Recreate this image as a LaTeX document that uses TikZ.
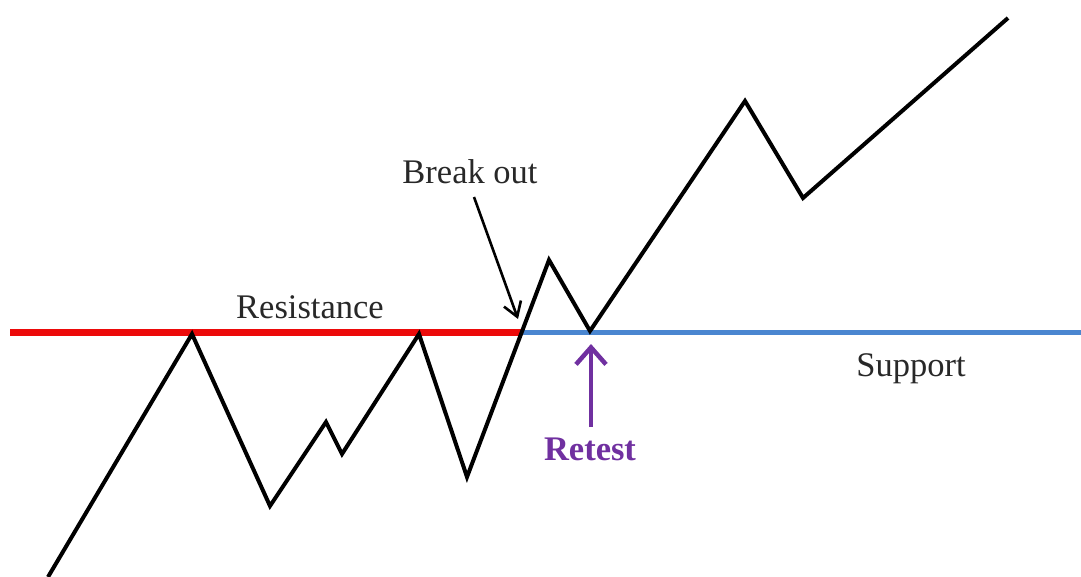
\documentclass[tikz,border=0pt]{standalone}
\usepackage{fontspec}
\setmainfont{Liberation Serif}
\usetikzlibrary{arrows.meta}
\definecolor{resred}{RGB}{236,10,10}
\definecolor{supblue}{RGB}{74,134,208}
\definecolor{retpurple}{RGB}{112,48,160}
\definecolor{txtgray}{RGB}{40,40,40}
\tikzset{
  lbl/.style={font=\fontsize{34.5}{40}\selectfont, text=txtgray, inner sep=0pt},
  price/.style={line width=4pt, black, line join=miter},
}
\begin{document}
\begin{tikzpicture}[x=1pt,y=-1pt]
\useasboundingbox (0,0) rectangle (1081,577);
% levels
\coordinate (rs) at (10,332);
\coordinate (bo) at (522,332);
\coordinate (se) at (1081,332);
\draw[resred, line width=7pt] (rs) -- (bo);
\draw[supblue, line width=5pt] (bo) -- (se);
% price path
\coordinate (p0) at (48,577);
\coordinate (p1) at (192,334);
\coordinate (p2) at (270,506);
\coordinate (p3) at (326,422);
\coordinate (p4) at (342,454);
\coordinate (p5) at (419,334);
\coordinate (p6) at (467,477);
\coordinate (p7) at (549,260);
\coordinate (p8) at (590,331);
\coordinate (p9) at (745,101);
\coordinate (p10) at (803,198);
\coordinate (p11) at (1008,18);
\draw[price] (p0) -- (p1) -- (p2) -- (p3) -- (p4) -- (p5) -- (p6) -- (p7) -- (p8) -- (p9) -- (p10) -- (p11);
% labels
\node[lbl] (res) at (310,307) {Resistance};
\node[lbl] (sup) at (911,369) {Support};
\node[lbl] (brk) at (470,172) {Break out};
\node[lbl, font=\fontsize{34.5}{40}\selectfont\bfseries, text=retpurple] (ret) at (590,449) {Retest};
% arrows
\coordinate (bs) at (474,197);
\coordinate (be) at (518,319);
\draw[line width=2.6pt, -{Straight Barb[length=14pt,width=18pt]}] (bs) -- (be);
\coordinate (rs2) at (591,427);
\coordinate (re) at (591,344);
\draw[retpurple, line width=4.5pt, -{Straight Barb[length=17pt,width=30pt]}] (rs2) -- (re);
\end{tikzpicture}
\end{document}
